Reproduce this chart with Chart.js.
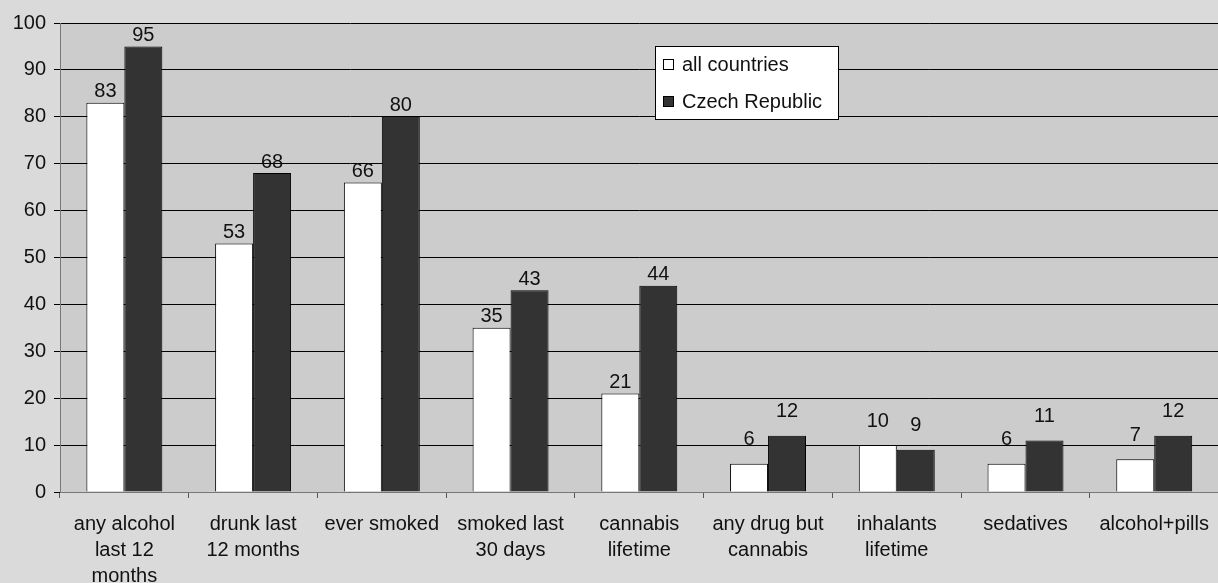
<!DOCTYPE html>
<html>
<head>
<meta charset="utf-8">
<script src="https://cdn.jsdelivr.net/npm/chart.js@4.4.1/dist/chart.umd.min.js"></script>
<style>
  html, body { margin: 0; padding: 0; background: #dadada; overflow: hidden; }
  #wrap { width: 1222px; height: 583px; }
</style>
</head>
<body>
<div id="wrap"><canvas id="chart"></canvas></div>
<script>
/* ---------- DATA ---------- */
const categories = [
  ['any alcohol', 'last 12', 'months'],
  ['drunk last', '12 months'],
  'ever smoked',
  ['smoked last', '30 days'],
  ['cannabis', 'lifetime'],
  ['any drug but', 'cannabis'],
  ['inhalants', 'lifetime'],
  'sedatives',
  'alcohol+pills'
];
const allCountries = [83, 53, 66, 35, 21, 6, 10, 6, 7];
const czechRepublic = [95, 68, 80, 43, 44, 12, 9, 11, 12];
const seriesNames = ['all countries', 'Czech Republic'];
const yTicks = [0, 10, 20, 30, 40, 50, 60, 70, 80, 90, 100];

const FONT = '"Liberation Sans", Arial, Helvetica, sans-serif';

/* ---------- PLUGINS ---------- */
// gray plot area behind the grid
const plotBg = {
  id: 'plotBg',
  beforeDraw(chart) {
    const { ctx, chartArea: a } = chart;
    ctx.save();
    ctx.fillStyle = '#cccccc';
    ctx.fillRect(a.left, a.top, a.right - a.left, a.bottom - a.top);
    ctx.restore();
  }
};

// value labels above bars + legend box
const labelsAndLegend = {
  id: 'labelsAndLegend',
  afterDatasetsDraw(chart) {
    const ctx = chart.ctx;
    ctx.save();
    ctx.font = '20px ' + FONT;
    ctx.fillStyle = '#111';
    ctx.textAlign = 'center';
    ctx.textBaseline = 'bottom';
    chart.data.datasets.forEach((ds, i) => {
      chart.getDatasetMeta(i).data.forEach((bar, j) => {
        const v = ds.data[j];
        const gap = v < 15 ? 14 : 1;
        ctx.fillText(String(v), bar.x, bar.y - gap);
      });
    });

    // legend
    const lx = 655, ly = 46, lw = 183, lh = 73;
    ctx.fillStyle = '#ffffff';
    ctx.fillRect(lx, ly, lw, lh);
    ctx.strokeStyle = '#000';
    ctx.lineWidth = 1;
    ctx.strokeRect(lx + 0.5, ly + 0.5, lw, lh);
    ctx.textAlign = 'left';
    ctx.textBaseline = 'middle';
    chart.data.datasets.forEach((ds, i) => {
      const cy = ly + 18 + i * 37;
      ctx.fillStyle = ds.backgroundColor;
      ctx.fillRect(lx + 8, cy - 5, 10, 10);
      ctx.strokeStyle = '#000';
      ctx.strokeRect(lx + 8.5, cy - 4.5, 10, 10);
      ctx.fillStyle = '#111';
      ctx.fillText(ds.label, lx + 27, cy + 1);
    });
    ctx.restore();
  }
};

/* ---------- CHART ---------- */
new Chart(document.getElementById('chart').getContext('2d'), {
  type: 'bar',
  data: {
    labels: categories,
    datasets: [
      { label: seriesNames[0], data: allCountries, backgroundColor: '#ffffff', borderColor: '#000', borderWidth: 1 },
      { label: seriesNames[1], data: czechRepublic, backgroundColor: '#333333', borderColor: '#000', borderWidth: 1 }
    ]
  },
  options: {
    responsive: true,
    maintainAspectRatio: false,
    animation: false,
    layout: { padding: { top: 23, right: 0, left: 0, bottom: 0 } },
    datasets: { bar: { categoryPercentage: 0.59, barPercentage: 1.0 } },
    plugins: { legend: { display: false }, tooltip: { enabled: false } },
    scales: {
      x: {
        grid: { display: true, drawOnChartArea: false, offset: true, tickLength: 6, color: '#555' },
        border: { color: '#777', width: 1 },
        ticks: {
          color: '#111', maxRotation: 0, minRotation: 0, autoSkip: false, padding: 13,
          font: { family: FONT, size: 20, lineHeight: 1.3 }
        },
        afterFit(scale) { scale.height = 91; }
      },
      y: {
        min: 0, max: 100,
        grid: { color: '#000', tickLength: 6, lineWidth: 1 },
        border: { color: '#777', width: 1 },
        afterBuildTicks(scale) { scale.ticks = yTicks.map(v => ({ value: v })); },
        ticks: { color: '#111', padding: 8, font: { family: FONT, size: 20 } },
        afterFit(scale) { scale.width = 60; }
      }
    }
  },
  plugins: [plotBg, labelsAndLegend]
});
</script>
</body>
</html>
